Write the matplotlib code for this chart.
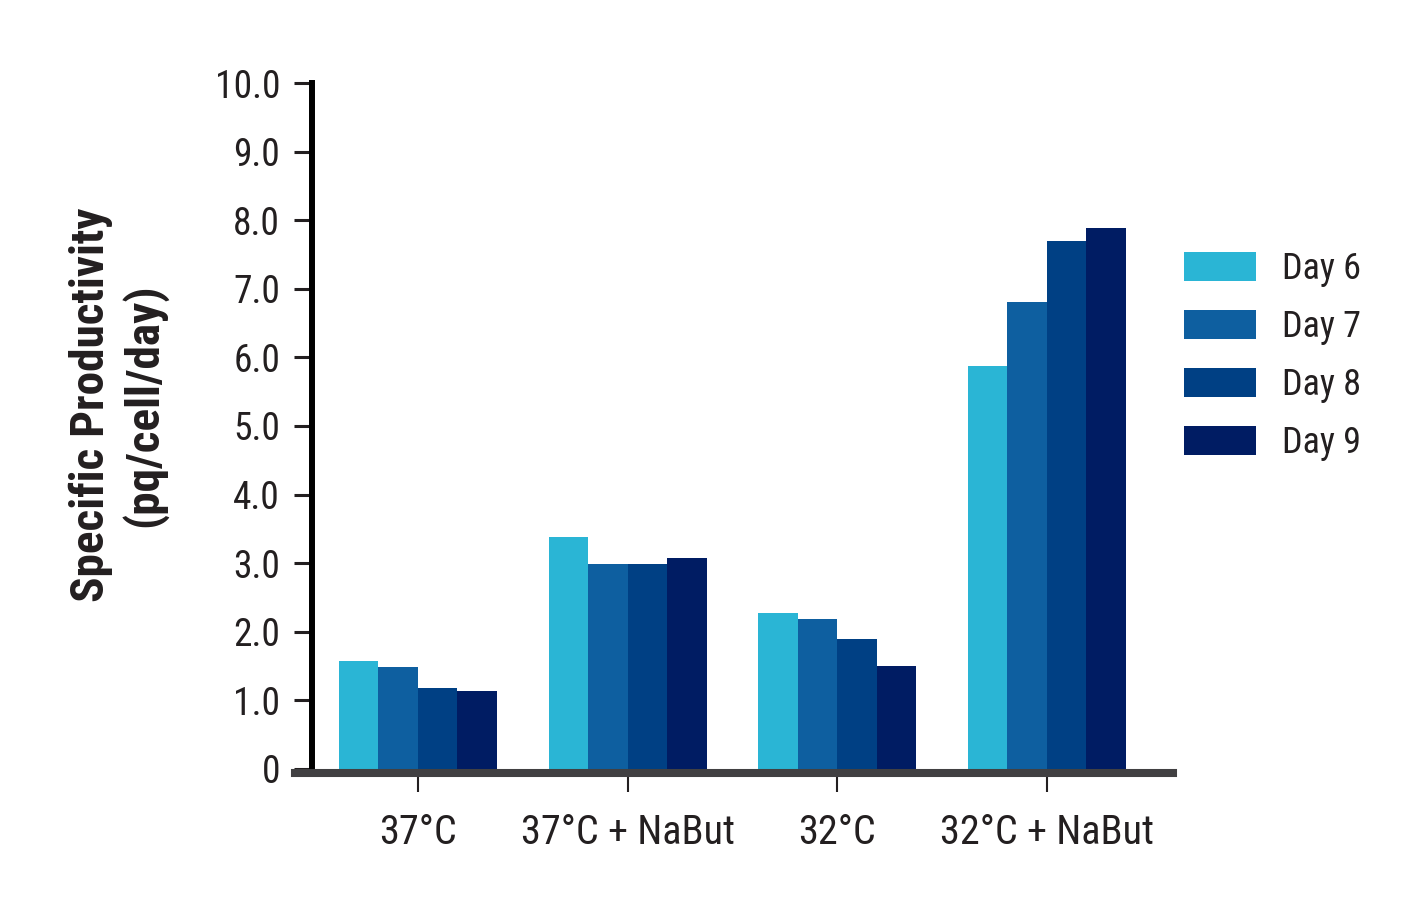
import numpy as np
import matplotlib
matplotlib.use("Agg")
import matplotlib.pyplot as plt
from matplotlib import font_manager

# data
groups = ["37°C", "37°C + NaBut", "32°C", "32°C + NaBut"]
days = ["Day 6", "Day 7", "Day 8", "Day 9"]
day6 = [1.57, 3.38, 2.27, 5.87]
day7 = [1.48, 2.99, 2.18, 6.80]
day8 = [1.18, 2.99, 1.89, 7.69]
day9 = [1.14, 3.08, 1.50, 7.89]
yticks = [0, 1, 2, 3, 4, 5, 6, 7, 8, 9, 10]
ytick_labels = ["0", "1.0", "2.0", "3.0", "4.0", "5.0", "6.0", "7.0", "8.0", "9.0", "10.0"]
colors = ["#2AB5D5", "#0E5FA0", "#004084", "#001C63"]

# condensed face if the box has one, else Roboto
have = {f.name for f in font_manager.fontManager.ttflist}
fam = "Roboto"
for cand in ["Roboto Condensed", "Liberation Sans Narrow"]:
    if cand in have:
        fam = cand
        break
plt.rcParams["font.family"] = [fam, "DejaVu Sans"]

txt = "#231F20"

fig = plt.figure(figsize=(14.21, 9.07), dpi=100)
ax = fig.add_axes([295 / 1421, 1 - 773 / 907, (1173 - 295) / 1421, (773 - 83) / 907])

x = np.arange(len(groups))
w = 0.1884
series = [day6, day7, day8, day9]
for i, vals in enumerate(series):
    ax.bar(x + (i - 1.5) * w, vals, w, color=colors[i], label=days[i],
           linewidth=0, zorder=2)

ax.set_xlim(-0.5866, 3.601)
ax.set_ylim(-0.06, 10)

for s in ["top", "right"]:
    ax.spines[s].set_visible(False)
ax.spines["left"].set_position(("data", -0.5056))
ax.spines["left"].set_bounds(-0.06, 10)
ax.spines["left"].set_linewidth(4.3)
ax.spines["left"].set_color("black")
ax.spines["bottom"].set_linewidth(5.8)
ax.spines["bottom"].set_color("#414042")
ax.spines["bottom"].set_zorder(3)

ax.set_yticks(yticks)
ax.set_yticklabels(ytick_labels)
ax.tick_params(axis="y", length=13, width=2.2, color=txt, pad=10,
               labelsize=27, labelcolor=txt)

ax.set_xticks(x)
ax.set_xticklabels(groups)
ax.tick_params(axis="x", length=14, width=1.5, color=txt, pad=14.5,
               labelsize=29, labelcolor=txt)

fig.text(118 / 1421, 1 - 405 / 907, "Specific Productivity\n(pq/cell/day)",
         rotation=90, ha="center", va="center", multialignment="center",
         fontsize=34, fontweight="bold", color=txt, linespacing=1.2)

leg = ax.legend(loc="upper left", bbox_to_anchor=(1184 / 1421, 1 - 251 / 907),
                bbox_transform=fig.transFigure, frameon=False, fontsize=26,
                handlelength=2.0, handleheight=0.86, handletextpad=0.7,
                labelspacing=0.61, borderpad=0, borderaxespad=0)
for t in leg.get_texts():
    t.set_color(txt)

fig.savefig("out.png", dpi=100)
